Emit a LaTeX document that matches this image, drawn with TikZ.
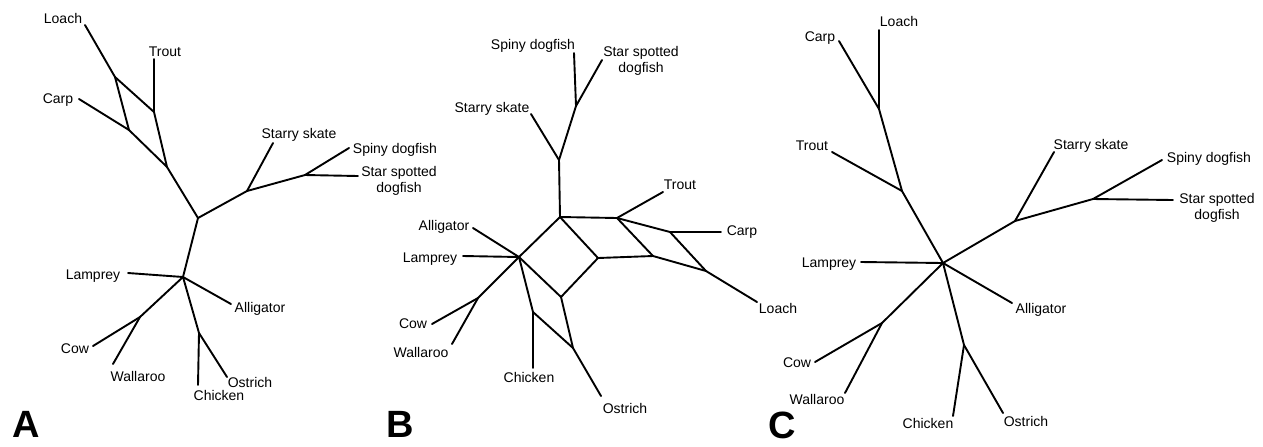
\documentclass[tikz,border=0pt]{standalone}
\usepackage{fontspec}
\setmainfont{Liberation Sans}
\begin{document}
\begin{tikzpicture}[x=0.5pt,y=-0.5pt,
  br/.style={line width=0.95pt, line cap=round, line join=round},
  lbl/.style={font=\fontsize{7}{8}\selectfont, inner sep=0pt, anchor=mid},
  lbltwo/.style={font=\fontsize{7}{8}\selectfont, inner sep=0pt, align=center},
  panel/.style={font=\fontsize{19}{19}\selectfont\bfseries, inner sep=0pt, anchor=base}]
\useasboundingbox (0,0) rectangle (1263,446);

% ---------------- Panel A ----------------
\coordinate (aLoach) at (85,25);
\coordinate (aN1) at (115,77);
\coordinate (aTrout) at (154,59);
\coordinate (aN2) at (154,112);
\coordinate (aCarp) at (79,99);
\coordinate (aN3) at (129,130);
\coordinate (aN4) at (167,167);
\coordinate (aN5) at (198,218);
\coordinate (aN6) at (247,191);
\coordinate (aSkate) at (273,143);
\coordinate (aN7) at (305,175);
\coordinate (aSpiny) at (349,148);
\coordinate (aStar) at (358,176);
\coordinate (aN8) at (183,277);
\coordinate (aLamprey) at (128,273);
\coordinate (aAlligator) at (231,304);
\coordinate (aN9) at (140,317);
\coordinate (aCow) at (93,346);
\coordinate (aWallaroo) at (113,364);
\coordinate (aN10) at (199,333);
\coordinate (aChicken) at (198,385);
\coordinate (aOstrich) at (227,377);

\draw[br] (aLoach) -- (aN1);
\draw[br] (aN1) -- (aN2);
\draw[br] (aN1) -- (aN3);
\draw[br] (aTrout) -- (aN2);
\draw[br] (aCarp) -- (aN3);
\draw[br] (aN3) -- (aN4);
\draw[br] (aN2) -- (aN4);
\draw[br] (aN4) -- (aN5);
\draw[br] (aN5) -- (aN6);
\draw[br] (aN6) -- (aSkate);
\draw[br] (aN6) -- (aN7);
\draw[br] (aN7) -- (aSpiny);
\draw[br] (aN7) -- (aStar);
\draw[br] (aN5) -- (aN8);
\draw[br] (aN8) -- (aLamprey);
\draw[br] (aN8) -- (aAlligator);
\draw[br] (aN8) -- (aN9);
\draw[br] (aN9) -- (aCow);
\draw[br] (aN9) -- (aWallaroo);
\draw[br] (aN8) -- (aN10);
\draw[br] (aN10) -- (aChicken);
\draw[br] (aN10) -- (aOstrich);

\node[lbl] (aLLoach) at (63,18) {Loach};
\node[lbl] (aLTrout) at (165,51) {Trout};
\node[lbl] (aLCarp) at (58,98) {Carp};
\node[lbl] (aLSkate) at (299,133) {Starry skate};
\node[lbl] (aLSpiny) at (395,148) {Spiny dogfish};
\node[lbltwo] (aLStar) at (399,181) {Star spotted\\dogfish};
\node[lbl] (aLLamprey) at (93,274) {Lamprey};
\node[lbl] (aLAlligator) at (260,307) {Alligator};
\node[lbl] (aLCow) at (75,348) {Cow};
\node[lbl] (aLWallaroo) at (138,376) {Wallaroo};
\node[lbl] (aLChicken) at (219,395) {Chicken};
\node[lbl] (aLOstrich) at (250,382) {Ostrich};
\node[panel] (aPanel) at (26,437) {A};

% ---------------- Panel B ----------------
\coordinate (bSpiny) at (574,53);
\coordinate (bN1) at (576,106);
\coordinate (bStar) at (602,60);
\coordinate (bSkate) at (531,114);
\coordinate (bN2) at (559,160);
\coordinate (bN3) at (560,217);
\coordinate (bN4) at (617,218);
\coordinate (bHub) at (519,257);
\coordinate (bAlligator) at (473,228);
\coordinate (bLamprey) at (463,256);
\coordinate (bN5) at (598,258);
\coordinate (bN6) at (561,297);
\coordinate (bN7) at (478,298);
\coordinate (bCow) at (432,324);
\coordinate (bWallaroo) at (452,344);
\coordinate (bN8) at (533,312);
\coordinate (bChicken) at (533,368);
\coordinate (bN9) at (573,348);
\coordinate (bOstrich) at (601,396);
\coordinate (bTrout) at (663,192);
\coordinate (bN10) at (670,232);
\coordinate (bCarp) at (721,232);
\coordinate (bN11) at (653,256);
\coordinate (bN12) at (706,271);
\coordinate (bLoach) at (757,302);

\draw[br] (bSpiny) -- (bN1);
\draw[br] (bStar) -- (bN1);
\draw[br] (bN1) -- (bN2);
\draw[br] (bSkate) -- (bN2);
\draw[br] (bN2) -- (bN3);
\draw[br] (bN3) -- (bN4);
\draw[br] (bN3) -- (bHub);
\draw[br] (bN3) -- (bN5);
\draw[br] (bHub) -- (bN6);
\draw[br] (bN6) -- (bN5);
\draw[br] (bHub) -- (bAlligator);
\draw[br] (bHub) -- (bLamprey);
\draw[br] (bHub) -- (bN7);
\draw[br] (bN7) -- (bCow);
\draw[br] (bN7) -- (bWallaroo);
\draw[br] (bHub) -- (bN8);
\draw[br] (bN8) -- (bChicken);
\draw[br] (bN8) -- (bN9);
\draw[br] (bN6) -- (bN9);
\draw[br] (bN9) -- (bOstrich);
\draw[br] (bN4) -- (bTrout);
\draw[br] (bN4) -- (bN10);
\draw[br] (bN4) -- (bN11);
\draw[br] (bN5) -- (bN11);
\draw[br] (bN11) -- (bN12);
\draw[br] (bN10) -- (bN12);
\draw[br] (bN10) -- (bCarp);
\draw[br] (bN12) -- (bLoach);

\node[lbl] (bLSpiny) at (533,44) {Spiny dogfish};
\node[lbltwo] (bLStar) at (641,61) {Star spotted\\dogfish};
\node[lbl] (bLSkate) at (492,107) {Starry skate};
\node[lbl] (bLAlligator) at (444,225) {Alligator};
\node[lbl] (bLLamprey) at (430,257) {Lamprey};
\node[lbl] (bLCow) at (413,323) {Cow};
\node[lbl] (bLWallaroo) at (421,352) {Wallaroo};
\node[lbl] (bLChicken) at (529,377) {Chicken};
\node[lbl] (bLOstrich) at (625,408) {Ostrich};
\node[lbl] (bLTrout) at (680,184) {Trout};
\node[lbl] (bLCarp) at (742,230) {Carp};
\node[lbl] (bLLoach) at (778,308) {Loach};
\node[panel] (bPanel) at (400,437) {B};

% ---------------- Panel C ----------------
\coordinate (cLoach) at (879,30);
\coordinate (cN1) at (879,109);
\coordinate (cCarp) at (839,41);
\coordinate (cTrout) at (832,152);
\coordinate (cN2) at (902,191);
\coordinate (cHub) at (943,263);
\coordinate (cN3) at (1015,221);
\coordinate (cSkate) at (1054,152);
\coordinate (cN4) at (1093,199);
\coordinate (cSpiny) at (1162,160);
\coordinate (cStar) at (1173,200);
\coordinate (cLamprey) at (861,262);
\coordinate (cAlligator) at (1012,303);
\coordinate (cN5) at (882,323);
\coordinate (cCow) at (815,362);
\coordinate (cWallaroo) at (845,393);
\coordinate (cN6) at (964,345);
\coordinate (cChicken) at (953,416);
\coordinate (cOstrich) at (1003,413);

\draw[br] (cLoach) -- (cN1);
\draw[br] (cCarp) -- (cN1);
\draw[br] (cN1) -- (cN2);
\draw[br] (cTrout) -- (cN2);
\draw[br] (cN2) -- (cHub);
\draw[br] (cHub) -- (cN3);
\draw[br] (cN3) -- (cSkate);
\draw[br] (cN3) -- (cN4);
\draw[br] (cN4) -- (cSpiny);
\draw[br] (cN4) -- (cStar);
\draw[br] (cHub) -- (cLamprey);
\draw[br] (cHub) -- (cAlligator);
\draw[br] (cHub) -- (cN5);
\draw[br] (cN5) -- (cCow);
\draw[br] (cN5) -- (cWallaroo);
\draw[br] (cHub) -- (cN6);
\draw[br] (cN6) -- (cChicken);
\draw[br] (cN6) -- (cOstrich);

\node[lbl] (cLLoach) at (899,21) {Loach};
\node[lbl] (cLCarp) at (820,36) {Carp};
\node[lbl] (cLTrout) at (812,145) {Trout};
\node[lbl] (cLSkate) at (1091,144) {Starry skate};
\node[lbl] (cLSpiny) at (1209,157) {Spiny dogfish};
\node[lbltwo] (cLStar) at (1217,208) {Star spotted\\dogfish};
\node[lbl] (cLLamprey) at (829,262) {Lamprey};
\node[lbl] (cLAlligator) at (1041,308) {Alligator};
\node[lbl] (cLCow) at (797,362) {Cow};
\node[lbl] (cLWallaroo) at (817,399) {Wallaroo};
\node[lbl] (cLChicken) at (928,423) {Chicken};
\node[lbl] (cLOstrich) at (1026,421) {Ostrich};
\node[panel] (cPanel) at (782,438) {C};
\end{tikzpicture}
\end{document}
